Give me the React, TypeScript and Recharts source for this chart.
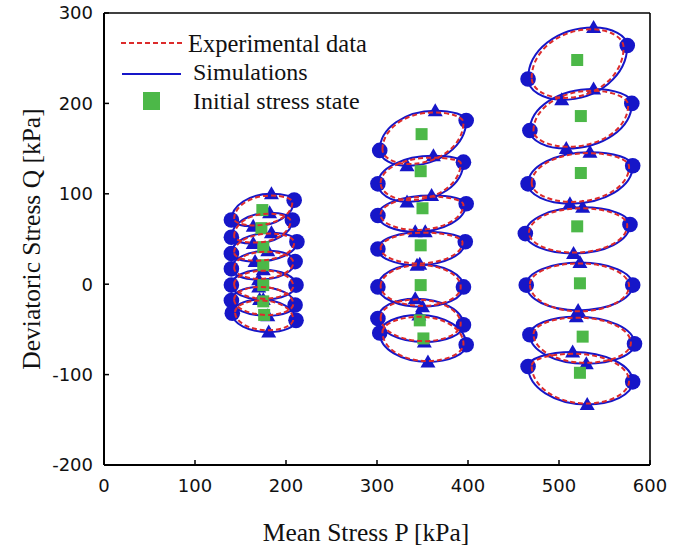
import React from 'react';
import { ComposedChart, Line, Scatter, XAxis, YAxis } from 'recharts';

type Pt = [number, number];

// Initial stress state (P, Q) – green squares
const initialStress: Pt[] = [
  [174, 82], [173, 62], [175, 41], [175, 21], [175, -1], [175, -19], [176, -34],
  [349, 166], [348, 125], [350, 84], [348, 43], [348, -1], [347, -40], [351, -60],
  [520, 248], [524, 186], [524, 123], [520, 64], [523, 1], [526, -58], [523, -98],
];

// Simulation loops: extreme points (left/right = circles, top/bottom = triangles)
const simLeft: Pt[] = [
  [140, 71], [140, 52], [140, 34], [140, 17], [140, -1], [140, -18], [141, -32],
  [303, 148], [301, 111], [301, 76], [301, 39], [301, -3], [301, -38], [303, -54],
  [466, 227], [468, 170], [466, 111], [463, 56], [464, -1], [468, -56], [466, -91],
];
const simRight: Pt[] = [
  [209, 93], [207, 71], [212, 47], [210, 25], [211, -1], [210, -23], [211, -40],
  [398, 181], [395, 135], [398, 89], [397, 47], [395, -3], [395, -45], [398, -67],
  [575, 264], [580, 200], [581, 131], [578, 66], [581, -1], [583, -66], [581, -108],
];
const simTop: Pt[] = [
  [184, 100], [182, 79], [184, 57], [180, 37], [175, 16], [170, -3], [171, -17],
  [364, 192], [362, 142], [360, 98], [353, 58], [347, 22], [342, -16], [346, -34],
  [538, 284], [538, 216], [534, 146], [526, 85], [523, 24], [519, -36], [515, -75],
];
const simBottom: Pt[] = [
  [164, 64], [164, 45], [166, 25], [170, 5], [175, -17], [180, -35], [181, -53],
  [333, 131], [333, 91], [342, 58], [344, 21], [350, -25], [352, -64], [356, -86],
  [503, 204], [508, 150], [512, 89], [516, 34], [521, -29], [530, -88], [531, -133],
];

// Experimental loops: extreme points
const expLeft: Pt[] = [
  [143, 72], [143, 53], [143, 35], [143, 18], [143, 0], [143, -17], [144, -31],
  [306, 149], [304, 112], [304, 77], [304, 40], [304, -2], [304, -37], [306, -53],
  [470, 228], [472, 170], [470, 112], [467, 57], [468, 0], [472, -55], [470, -90],
];
const expRight: Pt[] = [
  [207, 91], [205, 70], [209, 46], [208, 24], [208, -2], [208, -22], [208, -39],
  [395, 179], [392, 134], [395, 88], [394, 46], [392, -3], [392, -44], [395, -66],
  [571, 262], [576, 198], [577, 130], [575, 65], [577, -2], [579, -65], [577, -107],
];
const expTop: Pt[] = [
  [183, 98], [181, 78], [183, 56], [179, 36], [176, 15], [171, -3], [172, -18],
  [362, 190], [360, 140], [358, 97], [352, 57], [347, 21], [343, -17], [347, -36],
  [536, 282], [536, 214], [532, 145], [525, 84], [523, 23], [520, -37], [516, -77],
];
const expBottom: Pt[] = [
  [165, 65], [165, 46], [167, 26], [171, 6], [175, -16], [180, -34], [180, -51],
  [335, 133], [335, 93], [343, 60], [345, 23], [350, -24], [352, -63], [355, -85],
  [505, 206], [510, 152], [514, 91], [517, 35], [522, -30], [530, -87], [530, -132],
];

const xTicks = [0, 100, 200, 300, 400, 500, 600];
const yTicks = [-200, -100, 0, 100, 200, 300];

const BLUE = '#1616c8';
const RED = '#dc2b2b';
const GREEN = '#4cb848';

const toObj = (arr: Pt[]) => arr.map(([p, q]) => ({ p, q }));
const buildLoops = (l: Pt[], t: Pt[], r: Pt[], b: Pt[]) =>
  l.map((_, i) => toObj([l[i], t[i], r[i], b[i]]));

const simLoops = buildLoops(simLeft, simTop, simRight, simBottom);
const expLoops = buildLoops(expLeft, expTop, expRight, expBottom);
const circlePts = toObj([...simLeft, ...simRight]);
const trianglePts = toObj([...simTop, ...simBottom]);
const squarePts = toObj(initialStress);

// Closed curve through extreme points: vertical tangents at even points, horizontal at odd
const ellipseCurve = (context: any) => {
  let pts: number[][] = [];
  return {
    areaStart() {},
    areaEnd() {},
    lineStart() {
      pts = [];
    },
    point(x: number, y: number) {
      pts.push([+x, +y]);
    },
    lineEnd() {
      const n = pts.length;
      if (n < 2) return;
      const K = 0.5523;
      context.moveTo(pts[0][0], pts[0][1]);
      for (let i = 0; i < n; i++) {
        const j = (i + 1) % n;
        const a = pts[i];
        const b = pts[j];
        const aV = i % 2 === 0;
        const bV = j % 2 === 0;
        const c1 = aV ? [a[0], a[1] + K * (b[1] - a[1])] : [a[0] + K * (b[0] - a[0]), a[1]];
        const c2 = bV ? [b[0], b[1] + K * (a[1] - b[1])] : [b[0] + K * (a[0] - b[0]), b[1]];
        context.bezierCurveTo(c1[0], c1[1], c2[0], c2[1], b[0], b[1]);
      }
      context.closePath();
    },
  };
};

const CircleShape = (props: any) => <circle cx={props.cx} cy={props.cy} r={7.8} fill={BLUE} />;
const TriangleShape = (props: any) => {
  const { cx, cy } = props;
  return (
    <polygon
      points={`${cx},${cy - 7.5} ${cx - 7.5},${cy + 5.5} ${cx + 7.5},${cy + 5.5}`}
      fill={BLUE}
    />
  );
};
const SquareShape = (props: any) => (
  <rect x={props.cx - 6} y={props.cy - 6} width={12} height={12} fill={GREEN} />
);

const serif = "'Liberation Serif', 'Times New Roman', serif";
const sans = "'DejaVu Sans', sans-serif";

const XTitle = (props: any) => {
  const vb = props.viewBox || { x: 104, y: 465, width: 546, height: 40 };
  return (
    <text
      x={vb.x + vb.width / 2 - 11}
      y={532}
      textAnchor="middle"
      dominantBaseline="central"
      fontFamily={serif}
      fontSize={25.5}
      fill="#111"
    >
      Mean Stress P [kPa]
    </text>
  );
};

const YTitle = (props: any) => {
  const vb = props.viewBox || { x: 44, y: 13, width: 60, height: 452 };
  const cy = vb.y + vb.height / 2;
  return (
    <text
      x={31}
      y={cy}
      transform={`rotate(-90, 31, ${cy})`}
      textAnchor="middle"
      dominantBaseline="central"
      fontFamily={serif}
      fontSize={25.5}
      fill="#111"
    >
      Deviatoric Stress Q [kPa]
    </text>
  );
};

const tickStyle = { fontFamily: sans, fontSize: 18, fill: '#111' };
const empty = () => '';

export default function App() {
  return (
    <div style={{ position: 'absolute', left: 0, top: 0, width: 697, height: 550, background: '#fff' }}>
      <ComposedChart width={697} height={550} margin={{ top: 12, right: 46, bottom: 45, left: 44 }}>
        <XAxis
          xAxisId="b"
          dataKey="p"
          type="number"
          orientation="bottom"
          domain={[0, 600]}
          ticks={xTicks}
          interval={0}
          height={40}
          tickSize={-5}
          tickMargin={19}
          axisLine={{ stroke: '#000', strokeWidth: 2.2 }}
          tickLine={{ stroke: '#000', strokeWidth: 1.5 }}
          tick={tickStyle}
          label={XTitle}
        />
        <XAxis
          xAxisId="t"
          type="number"
          orientation="top"
          domain={[0, 600]}
          ticks={xTicks}
          interval={0}
          height={1}
          tickSize={-5}
          tickFormatter={empty}
          axisLine={{ stroke: '#000', strokeWidth: 1.6 }}
          tickLine={{ stroke: '#000', strokeWidth: 1.5 }}
        />
        <YAxis
          yAxisId="l"
          dataKey="q"
          type="number"
          orientation="left"
          domain={[-200, 300]}
          ticks={yTicks}
          interval={0}
          width={60}
          tickSize={-5}
          tickMargin={16}
          axisLine={{ stroke: '#000', strokeWidth: 2 }}
          tickLine={{ stroke: '#000', strokeWidth: 1.5 }}
          tick={tickStyle}
          label={YTitle}
        />
        <YAxis
          yAxisId="r"
          type="number"
          orientation="right"
          domain={[-200, 300]}
          ticks={yTicks}
          interval={0}
          width={1}
          tickSize={-5}
          tickFormatter={empty}
          axisLine={{ stroke: '#000', strokeWidth: 1.6 }}
          tickLine={{ stroke: '#000', strokeWidth: 1.5 }}
        />
        {simLoops.map((d, i) => (
          <Line
            key={`sim-${i}`}
            xAxisId="b"
            yAxisId="l"
            data={d}
            dataKey="q"
            type={ellipseCurve as any}
            stroke={BLUE}
            strokeWidth={2}
            dot={false}
            activeDot={false}
            legendType="none"
            isAnimationActive={false}
          />
        ))}
        <Scatter
          xAxisId="b"
          yAxisId="l"
          data={circlePts}
          dataKey="q"
          shape={CircleShape}
          isAnimationActive={false}
          legendType="none"
        />
        <Scatter
          xAxisId="b"
          yAxisId="l"
          data={trianglePts}
          dataKey="q"
          shape={TriangleShape}
          isAnimationActive={false}
          legendType="none"
        />
        <Scatter
          xAxisId="b"
          yAxisId="l"
          data={squarePts}
          dataKey="q"
          shape={SquareShape}
          isAnimationActive={false}
          legendType="none"
        />
        {expLoops.map((d, i) => (
          <Line
            key={`exp-${i}`}
            xAxisId="b"
            yAxisId="l"
            data={d}
            dataKey="q"
            type={ellipseCurve as any}
            stroke={RED}
            strokeWidth={2}
            strokeDasharray="5 3"
            dot={false}
            activeDot={false}
            legendType="none"
            isAnimationActive={false}
            zIndex={700}
          />
        ))}
      </ComposedChart>
      <svg
        width={697}
        height={130}
        style={{ position: 'absolute', left: 0, top: 0, pointerEvents: 'none' }}
      >
        <line x1={121} y1={43} x2={182} y2={43} stroke={RED} strokeWidth={2} strokeDasharray="5 3" />
        <text x={188} y={43} dominantBaseline="central" fontFamily={serif} fontSize={24.5} fill="#111">
          Experimental data
        </text>
        <line x1={122} y1={74} x2={181} y2={74} stroke={BLUE} strokeWidth={2.2} />
        <text x={193} y={72} dominantBaseline="central" fontFamily={serif} fontSize={24} fill="#111">
          Simulations
        </text>
        <rect x={143} y={92} width={17} height={18} fill={GREEN} />
        <text x={193} y={101} dominantBaseline="central" fontFamily={serif} fontSize={24} fill="#111">
          Initial stress state
        </text>
      </svg>
    </div>
  );
}
